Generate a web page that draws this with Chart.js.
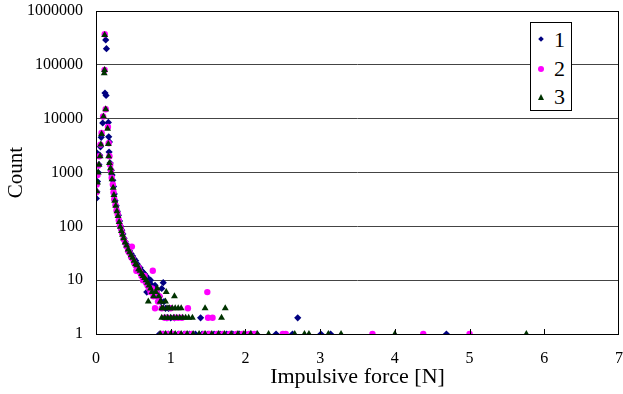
<!DOCTYPE html>
<html>
<head>
<meta charset="utf-8">
<script src="https://cdn.jsdelivr.net/npm/chart.js@4/dist/chart.umd.min.js"></script>
<style>
  body { margin: 0; background: #fff; }
  #wrap { position: relative; width: 623px; height: 394px; }
  #legend { position: absolute; left: 530px; top: 22px; width: 40px; height: 87px;
    border: 1px solid #000; background: #fff; font-family: "Liberation Serif", serif; font-size: 22px; }
  #legend div { position: absolute; left: 0; width: 40px; height: 24px; line-height: 24px; }
  #legend span.t { position: absolute; left: 23px; }
  #legend span.m { position: absolute; }
</style>
</head>
<body>
<div id="wrap">
  <canvas id="myChart" width="623" height="394"></canvas>
  <div id="legend"></div>
</div>
<script>
// series 1
var force1 = [0.00, 0.005, 0.012, 0.02, 0.03, 0.04, 0.05, 0.06, 0.07, 0.09,
  0.12, 0.13, 0.135, 0.14, 0.165, 0.17, 0.175, 0.18, 0.19, 0.205,
  0.215, 0.225, 0.235, 0.245, 0.255, 0.27, 0.285, 0.30, 0.315, 0.33,
  0.345, 0.36, 0.375, 0.39, 0.41, 0.43, 0.45, 0.47, 0.49, 0.51,
  0.53, 0.55, 0.57, 0.59, 0.61, 0.63, 0.65, 0.67, 0.68, 0.69,
  0.71, 0.73, 0.75, 0.77, 0.79, 0.81, 0.83, 0.85, 0.87, 0.88,
  0.90, 0.91, 0.93, 0.95, 0.97, 1.00, 1.05, 1.40, 2.70,
  0.85, 0.90, 0.97, 1.02, 1.10, 1.18, 1.25, 1.33, 1.42, 1.50, 1.58, 1.66,
  1.75, 1.83, 1.92, 2.00, 2.08, 2.15, 2.41, 2.63, 3.01, 3.14, 4.69];
var count1 = [2400, 330, 440, 680, 1000, 1400, 2100, 3000, 4500, 8300,
  30000, 290000, 27000, 200000, 8500, 4600, 2400, 3700, 1500, 1100,
  900, 720, 550, 400, 300, 240, 190, 160, 125, 100,
  85, 72, 60, 52, 46, 40, 35, 31, 28, 25,
  23, 20, 18, 17, 15, 14, 13, 12, 6, 11,
  9, 10, 8, 7, 8, 6, 5, 5, 4, 7,
  9, 4, 3, 2, 3, 2, 2, 2, 2,
  1, 1, 1, 1, 1, 1, 1, 1, 1, 1, 1, 1,
  1, 1, 1, 1, 1, 1, 1, 1, 1, 1, 1];

// series 2
var force2 = [0.005, 0.01, 0.02, 0.03, 0.045, 0.06, 0.075, 0.095, 0.115, 0.117,
  0.13, 0.16, 0.17, 0.18, 0.19, 0.20, 0.21, 0.225, 0.235, 0.245,
  0.26, 0.275, 0.29, 0.305, 0.32, 0.335, 0.35, 0.37, 0.39, 0.41,
  0.43, 0.45, 0.47, 0.48, 0.49, 0.51, 0.53, 0.54, 0.55, 0.57,
  0.59, 0.61, 0.63, 0.65, 0.67, 0.69, 0.71, 0.73, 0.75, 0.76,
  0.77, 0.79, 0.81, 0.83, 0.85, 0.88, 0.92, 0.96, 1.00, 1.05,
  1.10, 1.15, 1.23, 1.49, 1.50, 1.56,
  0.88, 0.95, 1.03, 1.12, 1.20, 1.28, 1.45, 1.52, 1.62, 1.70,
  1.79, 1.88, 1.96, 2.05, 2.12, 2.50, 2.54, 3.70, 4.38, 5.00];
var count2 = [430, 600, 900, 1350, 2000, 3300, 5400, 11000, 80000, 370000,
  15000, 7000, 3500, 2000, 1400, 1100, 800, 600, 430, 320,
  250, 200, 170, 130, 105, 90, 75, 58, 50, 42,
  35, 32, 27, 42, 25, 21, 19, 15, 15, 17,
  14, 12, 10, 12, 9, 8, 7, 6, 7, 15,
  5, 3, 6, 4, 5, 3, 2, 2, 3, 2,
  2, 2, 3, 6, 2, 2,
  1, 1, 1, 1, 1, 1, 1, 1, 1, 1,
  1, 1, 1, 1, 1, 1, 1, 1, 1, 1];

// series 3
var force3 = [0.01, 0.02, 0.03, 0.04, 0.055, 0.065, 0.075, 0.10, 0.11, 0.115,
  0.116, 0.13, 0.155, 0.165, 0.17, 0.18, 0.195, 0.205, 0.215, 0.23,
  0.24, 0.25, 0.265, 0.28, 0.295, 0.31, 0.325, 0.34, 0.355, 0.37,
  0.39, 0.41, 0.43, 0.45, 0.47, 0.49, 0.51, 0.53, 0.55, 0.57,
  0.59, 0.61, 0.63, 0.65, 0.67, 0.69, 0.70, 0.71, 0.73, 0.75,
  0.77, 0.80, 0.82, 0.84, 0.86, 0.87, 0.88, 0.90, 0.93, 0.94,
  0.95, 0.98, 1.02, 1.05, 1.06, 1.10, 1.14, 1.46, 1.73,
  0.88, 0.92, 0.96, 1.00, 1.04, 1.08, 1.12, 1.16, 1.20, 1.24, 1.29, 1.68,
  0.86, 0.93, 1.00, 1.06, 1.14, 1.22, 1.30, 1.38, 1.46, 1.55, 1.64, 1.72,
  1.81, 1.90, 1.98, 2.07, 2.16, 2.31, 2.66, 2.79, 2.85, 3.11, 3.28, 4.00, 5.76];
var count3 = [450, 650, 1000, 1400, 2000, 3300, 5200, 11000, 70000, 80000,
  360000, 15000, 6500, 3400, 2000, 1500, 1200, 1000, 750, 520,
  380, 300, 240, 190, 155, 120, 98, 82, 70, 60,
  50, 44, 37, 33, 29, 26, 23, 20, 19, 16,
  15, 13, 12, 11, 10, 9, 4, 8, 7, 6,
  5, 6, 7, 5, 4, 4, 3, 3, 4, 6,
  3, 3, 3, 5, 3, 3, 3, 3, 3,
  2, 2, 2, 2, 2, 2, 2, 2, 2, 2, 2, 2,
  1, 1, 1, 1, 1, 1, 1, 1, 1, 1, 1, 1,
  1, 1, 1, 1, 1, 1, 1, 1, 1, 1, 1, 1, 1];

var seriesNames = ['1', '2', '3'];
var seriesColors = ['#000080', '#ff00ff', '#003300'];
var seriesStyles = ['rectRot', 'circle', 'triangle'];
var countTicks = [1, 10, 100, 1000, 10000, 100000, 1000000];
var forceTicks = [0, 1, 2, 3, 4, 5, 6, 7];

function pts(xs, ys) {
  return xs.map(function (x, i) { return { x: x, y: ys[i] }; });
}

var serif = '"Liberation Serif", "Times New Roman", serif';

// frame and inner tick marks on the x axis
var framePlugin = {
  id: 'frame',
  afterDraw: function (chart) {
    var ctx = chart.ctx, a = chart.chartArea, xs = chart.scales.x;
    ctx.save();
    ctx.strokeStyle = '#000';
    ctx.lineWidth = 1;
    ctx.strokeRect(Math.round(a.left) + 0.5, Math.round(a.top) + 0.5,
      Math.round(a.right - a.left) - 1, Math.round(a.bottom - a.top));
    forceTicks.slice(1, -1).forEach(function (v) {
      var px = Math.round(xs.getPixelForValue(v)) + 0.5;
      ctx.beginPath();
      ctx.moveTo(px, a.bottom);
      ctx.lineTo(px, a.bottom - 5);
      ctx.stroke();
    });
    ctx.restore();
  }
};

var sizes = [3.6, 3.2, 4];
var datasets = [pts(force1, count1), pts(force2, count2), pts(force3, count3)].map(function (d, i) {
  return {
    label: seriesNames[i],
    data: d,
    pointStyle: seriesStyles[i],
    pointRadius: sizes[i],
    pointHoverRadius: sizes[i],
    backgroundColor: seriesColors[i],
    borderColor: seriesColors[i],
    borderWidth: 0,
    order: 3 - i
  };
});

new Chart('myChart', {
  type: 'scatter',
  data: { datasets: datasets },
  plugins: [framePlugin],
  options: {
    responsive: false,
    animation: false,
    layout: { padding: { top: 11, right: 3, left: 0, bottom: 0 } },
    plugins: { legend: { display: false }, tooltip: { enabled: false } },
    scales: {
      x: {
        type: 'linear', min: 0, max: 7,
        afterBuildTicks: function (s) { s.ticks = forceTicks.map(function (v) { return { value: v }; }); },
        afterFit: function (s) { s.height = 60; s.paddingLeft = 0; s.paddingRight = 0; },
        grid: { display: false, drawTicks: false },
        border: { display: false },
        ticks: { color: '#000', padding: 15, font: { family: serif, size: 16 } },
        title: { display: true, text: 'Impulsive force [N]', color: '#000',
          padding: { top: 0, bottom: 4 }, font: { family: serif, size: 22 } }
      },
      y: {
        type: 'logarithmic', min: 1, max: 1000000,
        afterBuildTicks: function (s) { s.ticks = countTicks.map(function (v) { return { value: v }; }); },
        afterFit: function (s) { s.width = 96; s.paddingTop = 0; s.paddingBottom = 0; },
        grid: { color: '#444', drawTicks: false },
        border: { display: false },
        ticks: { color: '#000', padding: 13, font: { family: serif, size: 16 },
          callback: function (v) { return String(v); } },
        title: { display: true, text: 'Count', color: '#000',
          padding: { top: 4, bottom: 0 }, font: { family: serif, size: 21 } }
      }
    }
  }
});

// legend box
var lg = document.getElementById('legend');
seriesNames.forEach(function (n, i) {
  var row = document.createElement('div');
  row.style.top = (5 + i * 28.5) + 'px';
  var m = document.createElement('span');
  m.className = 'm';
  if (i === 0) {
    m.style.cssText = 'left:8px;top:9px;width:4px;height:4px;background:' + seriesColors[i] + ';transform:rotate(45deg);';
  } else if (i === 1) {
    m.style.cssText = 'left:7px;top:9px;width:6px;height:6px;border-radius:3px;background:' + seriesColors[i] + ';';
  } else {
    m.style.cssText = 'left:7px;top:9px;width:0;height:0;border-left:3px solid transparent;border-right:3px solid transparent;border-bottom:6px solid ' + seriesColors[i] + ';';
  }
  var t = document.createElement('span');
  t.className = 't';
  t.textContent = n;
  row.appendChild(m);
  row.appendChild(t);
  lg.appendChild(row);
});
</script>
</body>
</html>
